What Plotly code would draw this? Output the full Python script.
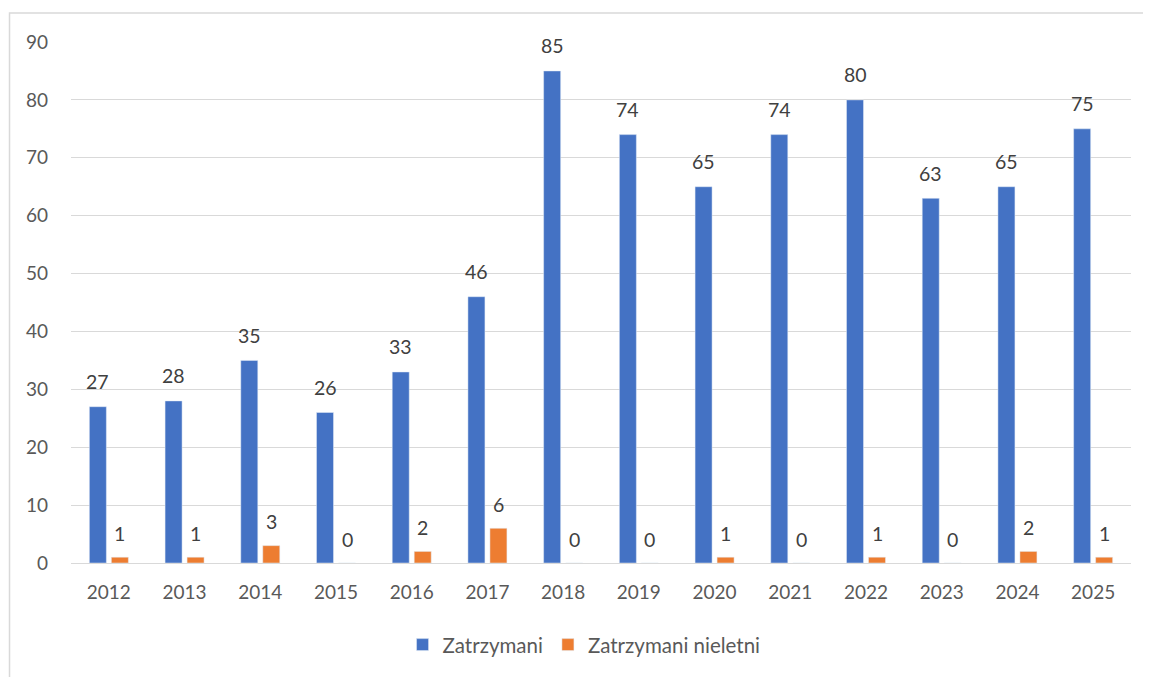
import plotly.graph_objects as go

years = ["2012", "2013", "2014", "2015", "2016", "2017", "2018", "2019",
         "2020", "2021", "2022", "2023", "2024", "2025"]
zatrzymani = [27, 28, 35, 26, 33, 46, 85, 74, 65, 74, 80, 63, 65, 75]
nieletni = [1, 1, 3, 0, 2, 6, 0, 0, 1, 0, 1, 0, 2, 1]

BLUE = "#4472C4"
ORANGE = "#ED7D31"
FONT = "Lato"

fig = go.Figure()
fig.add_trace(go.Bar(x=years, y=zatrzymani, name="Zatrzymani", marker_color=BLUE))
fig.add_trace(go.Bar(x=years, y=nieletni, name="Zatrzymani nieletni", marker_color=ORANGE))

annotations = []
for i in range(len(years)):
    annotations.append(dict(x=i, y=zatrzymani[i], text=str(zatrzymani[i]), xref="x", yref="y",
                            showarrow=False, xshift=-11, yshift=25, yanchor="middle",
                            font=dict(family=FONT, size=19.5, color="#404040")))
    annotations.append(dict(x=i, y=nieletni[i], text=str(nieletni[i]), xref="x", yref="y",
                            showarrow=False, xshift=11, yshift=24, yanchor="middle",
                            font=dict(family=FONT, size=19.5, color="#404040")))

fig.update_layout(
    width=1151, height=677,
    margin=dict(l=63, r=28, t=34, b=122, autoexpand=False),
    paper_bgcolor="white", plot_bgcolor="white",
    barmode="group", bargap=0.419, bargroupgap=0.227,
    font=dict(family=FONT, size=18, color="#595959"),
    showlegend=True,
    legend=dict(orientation="h", x=0.484, xanchor="center", y=-0.157, yanchor="middle",
                font=dict(family=FONT, size=20.5, color="#595959"), itemwidth=30,
                traceorder="normal"),
    annotations=annotations,
    shapes=[dict(type="rect", xref="paper", yref="paper", x0=-0.0580, x1=1.03,
                 y0=-0.27, y1=1.0557, line=dict(color="#d9d9d9", width=1.5),
                 fillcolor="rgba(0,0,0,0)", layer="below")],
)
fig.update_xaxes(type="category", range=[-0.5, len(years) - 0.5], showgrid=False,
                 showline=True, linecolor="#d9d9d9", linewidth=1,
                 ticks="", tickfont=dict(family=FONT, size=19, color="#595959"),
                 ticklabelstandoff=12, automargin=False)
fig.update_yaxes(range=[0, 90], dtick=10, showgrid=True, gridcolor="#d9d9d9", gridwidth=1,
                 zeroline=False, showline=False, ticks="",
                 tickfont=dict(family=FONT, size=19, color="#595959"),
                 ticklabelstandoff=22, automargin=False)

fig.write_html("out.html")
